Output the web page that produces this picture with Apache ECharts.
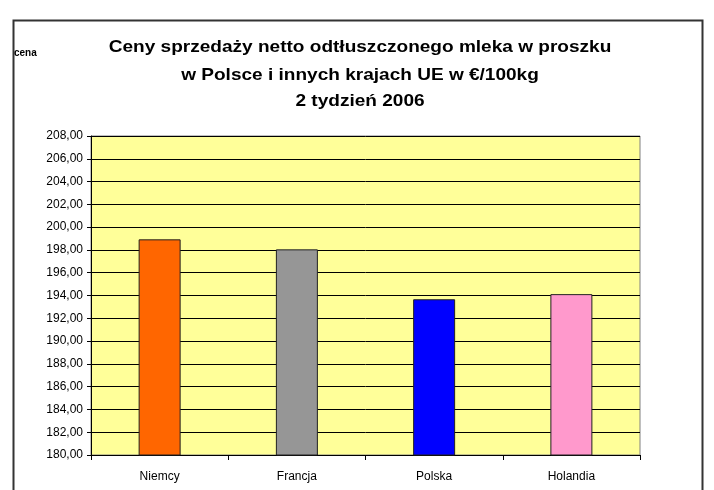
<!DOCTYPE html>
<html>
<head>
<meta charset="utf-8">
<script src="https://cdn.jsdelivr.net/npm/echarts@6/dist/echarts.min.js"></script>
<style>
html,body{margin:0;padding:0;background:#fff;}
#chart{width:714px;height:490px;}
</style>
</head>
<body>
<div id="chart"></div>
<script>
const categories = ['Niemcy', 'Francja', 'Polska', 'Holandia'];
const values = [198.93, 198.05, 193.67, 194.12];
const barColors = ['#FF6600', '#969696', '#0000FF', '#FF99CC'];
const titleLines = ['Ceny sprzedaży netto odtłuszczonego mleka w proszku', 'w Polsce i innych krajach UE w €/100kg', '2 tydzień 2006'];
const yAxisName = 'cena';

const chart = echarts.init(document.getElementById('chart'), null, {renderer: 'canvas'});
const FONT = '"Liberation Sans", Arial, sans-serif';

function titleText(str, y) {
  return {type: 'text', x: 360, y: y, scaleX: 1.12,
    style: {text: str, font: 'bold 17px ' + FONT, fill: '#000', textAlign: 'center', textVerticalAlign: 'middle'}};
}

chart.setOption({
  animation: false,
  backgroundColor: '#ffffff',
  grid: {
    left: 91, right: 74, top: 136, bottom: 35,
    show: true, backgroundColor: '#FFFF99', borderColor: '#808080', borderWidth: 1
  },
  graphic: [
    {type: 'rect', shape: {x: 13.5, y: 20.5, width: 689, height: 480}, style: {fill: 'none', stroke: '#333333', lineWidth: 2}, z: 0},
    {type: 'text', x: 14, y: 53, style: {text: yAxisName, font: 'bold 10px ' + FONT, fill: '#000', textVerticalAlign: 'middle'}},
    titleText(titleLines[0], 47.5),
    titleText(titleLines[1], 75),
    titleText(titleLines[2], 101.5)
  ],
  xAxis: {
    type: 'category',
    data: categories,
    axisLine: {lineStyle: {color: '#000', width: 1}},
    axisTick: {show: true, length: 5, lineStyle: {color: '#000'}},
    axisLabel: {color: '#000', fontFamily: FONT, fontSize: 12, margin: 16}
  },
  yAxis: {
    type: 'value',
    min: 180, max: 208, interval: 2,
    axisLine: {show: true, lineStyle: {color: '#000', width: 1}},
    axisTick: {show: true, length: 4, lineStyle: {color: '#000'}},
    axisLabel: {color: '#000', fontFamily: FONT, fontSize: 12, margin: 8,
      formatter: v => v.toFixed(2).replace('.', ',')},
    splitLine: {show: true, lineStyle: {color: '#000', width: 1}}
  },
  series: [{
    type: 'bar',
    data: values.map((v, i) => ({value: v, itemStyle: {color: barColors[i]}})),
    barWidth: 42,
    itemStyle: {borderColor: '#222', borderWidth: 1}
  }]
});
</script>
</body>
</html>
